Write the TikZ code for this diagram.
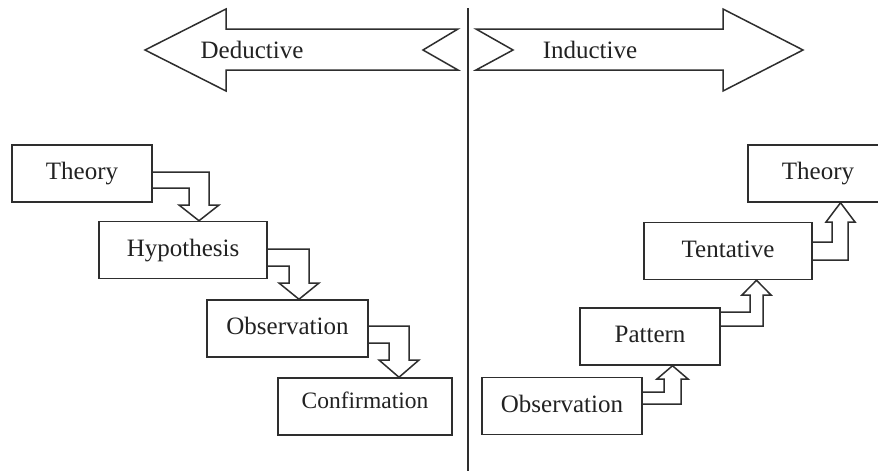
\documentclass[tikz,border=0pt]{standalone}
\usepackage{fontspec}
\setmainfont{Liberation Serif}
\usetikzlibrary{calc}
\definecolor{ink}{HTML}{2E2E2E}
\definecolor{txt}{HTML}{222222}
\begin{document}
\begin{tikzpicture}[x=1pt,y=-1pt,
  line join=miter,
  box/.style={draw=ink, line width=1.5pt, fill=white, inner sep=0pt,
    minimum height=57pt, text=txt, font=\fontsize{25}{30}\selectfont,
    text height=17pt, text depth=5pt},
  bigarrow/.style={draw=ink, line width=1.5pt, fill=white},
  steparrow/.style={draw=ink, line width=1.5pt},
  divider/.style={draw=ink, line width=1.5pt},
  arrowlabel/.style={text=txt, font=\fontsize{25}{30}\selectfont, inner sep=0pt}]
\useasboundingbox (0,0) rectangle (878,475);
\fill[white] (0,0) rectangle (878,475);
\clip (0,0) rectangle (878,475);

% central divider
\coordinate (divtop) at (468,8);
\coordinate (divbot) at (468,471);
\draw[divider] (divtop) -- (divbot);

% direction arrows
\draw[bigarrow] (145,50) -- (226,9) -- (226,29) -- (458,29) -- (423,50)
  -- (458,70) -- (226,70) -- (226,91) -- cycle;
\node[arrowlabel] (ded) at (252,50) {Deductive};

\draw[bigarrow] (476,29) -- (723,29) -- (723,9) -- (803,50) -- (723,91)
  -- (723,70) -- (476,70) -- (513,50) -- cycle;
\node[arrowlabel] (ind) at (590,50) {Inductive};

% deductive chain (left)
\node[box, minimum width=140pt] (theoryL) at (82,173.5) {Theory};
\node[box, minimum width=168pt] (hyp) at (183,250) {Hypothesis};
\node[box, minimum width=161pt] (obsL) at (287.5,328.5) {Observation};
\node[box, minimum width=174pt, font=\fontsize{23.5}{28}\selectfont] (conf) at (365,406.5) {\raisebox{4pt}{Confirmation}};

% inductive chain (right)
\node[box, minimum width=160pt] (obsR) at (562,406) {Observation};
\node[box, minimum width=140pt] (pattern) at (650,336.5) {Pattern};
\node[box, minimum width=168pt] (tent) at (728,251) {Tentative};
\node[box, minimum width=140pt] (theoryR) at (818,173.5) {Theory};

% downward step arrows
\draw[steparrow] (theoryL.east |- 0,172) -- (209,172) -- (209,205) -- (219,205)
  -- (199,0 |- hyp.north) -- (179,205) -- (189,205) -- (189,188) -- (theoryL.east |- 0,188);
\draw[steparrow] (hyp.east |- 0,249) -- (309,249) -- (309,283) -- (319,283)
  -- (299,0 |- obsL.north) -- (279,283) -- (289,283) -- (289,266) -- (hyp.east |- 0,266);
\draw[steparrow] (obsL.east |- 0,326) -- (409,326) -- (409,360) -- (419,360)
  -- (399,0 |- conf.north) -- (379,360) -- (389,360) -- (389,343) -- (obsL.east |- 0,343);

% upward step arrows
\draw[steparrow] (obsR.east |- 0,392) -- (664,392) -- (664,379) -- (657,379)
  -- (672.5,0 |- pattern.south) -- (688,379) -- (681,379) -- (681,404) -- (obsR.east |- 0,404);
\draw[steparrow] (pattern.east |- 0,312) -- (750,312) -- (750,295) -- (742,295)
  -- (756.5,0 |- tent.south) -- (771,295) -- (763,295) -- (763,326) -- (pattern.east |- 0,326);
\draw[steparrow] (tent.east |- 0,242) -- (832,242) -- (832,222) -- (826,222)
  -- (840.5,0 |- theoryR.south) -- (855,222) -- (848,222) -- (848,260) -- (tent.east |- 0,260);
\end{tikzpicture}
\end{document}
